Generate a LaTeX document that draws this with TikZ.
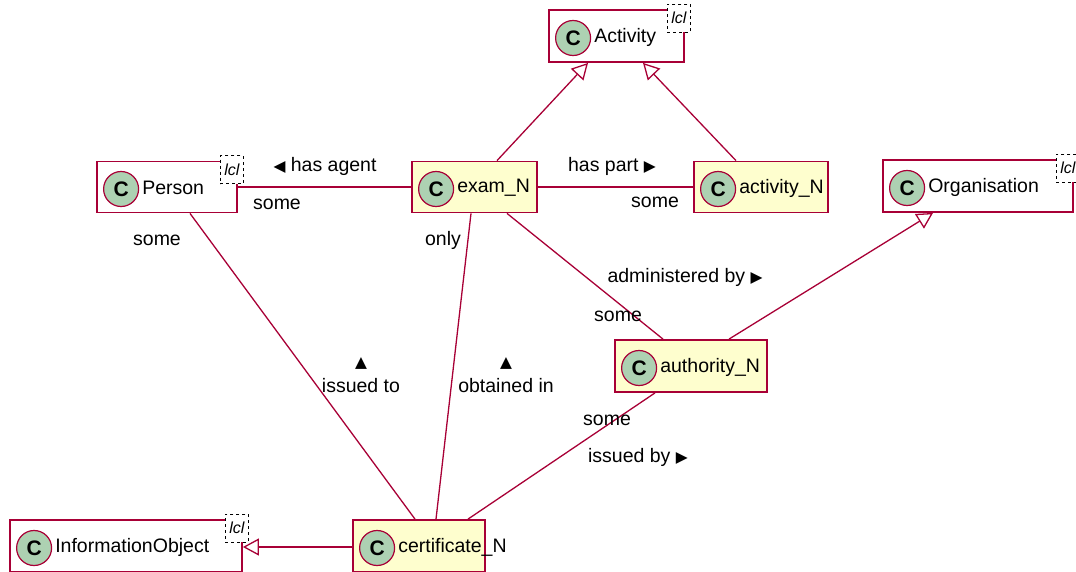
\documentclass[tikz,border=0pt]{standalone}
\usepackage{fontspec}
\setmainfont{Liberation Sans}
\newfontfamily\symb{DejaVu Sans}
\usetikzlibrary{arrows.meta,positioning}
\definecolor{umlred}{HTML}{A80036}
\definecolor{umlfill}{HTML}{FEFECE}
\definecolor{spotgreen}{HTML}{ADD1B2}
\newcommand{\tri}[1]{{\symb\fontsize{15.5}{15}\selectfont #1}}

\begin{document}
\begin{tikzpicture}[x=1pt, y=-1pt,
      every node/.append style={font=\fontsize{19.5}{22}\selectfont},
      cls/.style={draw=umlred, line width=1.8pt, fill=white, minimum height=51pt, inner sep=0pt},
      own/.style={cls, fill=umlfill},
      spot/.style={circle, draw=umlred, line width=1.2pt, fill=spotgreen, minimum size=35pt,
        inner sep=0pt, font=\fontsize{21}{21}\selectfont\bfseries},
      clsname/.style={anchor=west, inner sep=0pt},
      lcl/.style={draw=black, dashed, fill=white, line width=0.8pt, minimum width=23pt,
        minimum height=28pt, inner sep=0pt, font=\fontsize{16}{16}\selectfont\itshape},
      rel/.style={draw=umlred, line width=1.3pt},
      isa/.style={rel, -{Triangle[open, length=16pt, width=17pt, fill=white]}},
      lbl/.style={inner sep=1pt, align=center}]
    \useasboundingbox (0,0) rectangle (1076,571);

    % classes
    \node[cls, minimum width=135pt, minimum height=52pt] (activity) at (616.5,36) {};
    \node[spot] (activityC) at ([xshift=25pt, yshift=-2pt]activity.west) {C};
    \node[clsname] (activityT) at ([xshift=46pt, yshift=-1pt]activity.west) {Activity};
    \node[lcl] (activityL) at ([xshift=-6pt, yshift=-9pt]activity.north east) {lcl};

    \node[cls, minimum width=140pt] (person) at (167,187) {};
    \node[spot] (personC) at ([xshift=25pt, yshift=-2pt]person.west) {C};
    \node[clsname] (personT) at ([xshift=46pt, yshift=-1pt]person.west) {Person};
    \node[lcl] (personL) at ([xshift=-6pt, yshift=-9pt]person.north east) {lcl};

    \node[own, minimum width=125pt] (exam) at (474.5,187) {};
    \node[spot] (examC) at ([xshift=25pt, yshift=-2pt]exam.west) {C};
    \node[clsname] (examT) at ([xshift=46pt, yshift=-1pt]exam.west) {exam\_N};

    \node[own, minimum width=134pt] (actN) at (761,187) {};
    \node[spot] (actNC) at ([xshift=25pt, yshift=-2pt]actN.west) {C};
    \node[clsname] (actNT) at ([xshift=46pt, yshift=-1pt]actN.west) {activity\_N};

    \node[cls, minimum width=190pt, minimum height=52pt] (orga) at (978,186) {};
    \node[spot] (orgaC) at ([xshift=25pt, yshift=-2pt]orga.west) {C};
    \node[clsname] (orgaT) at ([xshift=46pt, yshift=-1pt]orga.west) {Organisation};
    \node[lcl] (orgaL) at ([xshift=-6pt, yshift=-9pt]orga.north east) {lcl};

    \node[own, minimum width=152pt, minimum height=52pt] (auth) at (691,366) {};
    \node[spot] (authC) at ([xshift=25pt, yshift=-2pt]auth.west) {C};
    \node[clsname] (authT) at ([xshift=46pt, yshift=-1pt]auth.west) {authority\_N};

    \node[own, minimum width=132pt, minimum height=52pt] (cert) at (419,546) {};
    \node[spot] (certC) at ([xshift=25pt, yshift=-2pt]cert.west) {C};
    \node[clsname] (certT) at ([xshift=46pt, yshift=-1pt]cert.west) {certificate\_N};

    \node[cls, minimum width=232pt, minimum height=52pt] (info) at (126,546) {};
    \node[spot] (infoC) at ([xshift=25pt, yshift=-2pt]info.west) {C};
    \node[clsname] (infoT) at ([xshift=46pt, yshift=-1pt]info.west) {InformationObject};
    \node[lcl] (infoL) at ([xshift=-6pt, yshift=-9pt]info.north east) {lcl};

    % generalisations
    \draw[isa] ([xshift=22.5pt]exam.north) -- ([xshift=-28.5pt]activity.south);
    \draw[isa] ([xshift=-25pt]actN.north) -- ([xshift=26.5pt]activity.south);
    \draw[isa] ([xshift=38pt]auth.north) -- ([xshift=-45pt]orga.south);
    \draw[isa] ([yshift=-1pt]cert.west) -- ([yshift=-1pt]info.east);

    % associations
    \draw[rel] (person.east) -- (exam.west);
    \draw[rel] (exam.east) -- (actN.west);
    \draw[rel] ([xshift=23pt]person.south) -- ([xshift=-4pt]cert.north);
    \draw[rel] ([xshift=-3.5pt]exam.south) -- ([xshift=17pt]cert.north);
    \draw[rel] ([xshift=32.5pt]exam.south) -- ([xshift=-28pt]auth.north);
    \draw[rel] ([xshift=-36pt]auth.south) -- ([xshift=49pt]cert.north);

    \node[lbl] (agentL) at (325,166) {\tri{◀} has agent};
    \node[lbl] (agentM) at (277,204) {some};
    \node[lbl] (partL) at (612,166) {has part \tri{▶}};
    \node[lbl] (partM) at (655,202) {some};
    \node[lbl] (toM) at (157,240) {some};
    \node[lbl] (toL) at (361,375) {\tri{▲}\\[3pt]issued to};
    \node[lbl] (inM) at (443,240) {only};
    \node[lbl] (inL) at (506,375) {\tri{▲}\\[3pt]obtained in};
    \node[lbl] (adminL) at (685,277) {administered by \tri{▶}};
    \node[lbl] (adminM) at (618,316) {some};
    \node[lbl] (byM) at (607,420) {some};
    \node[lbl] (byL) at (638,457) {issued by \tri{▶}};
  \end{tikzpicture}
\end{document}
